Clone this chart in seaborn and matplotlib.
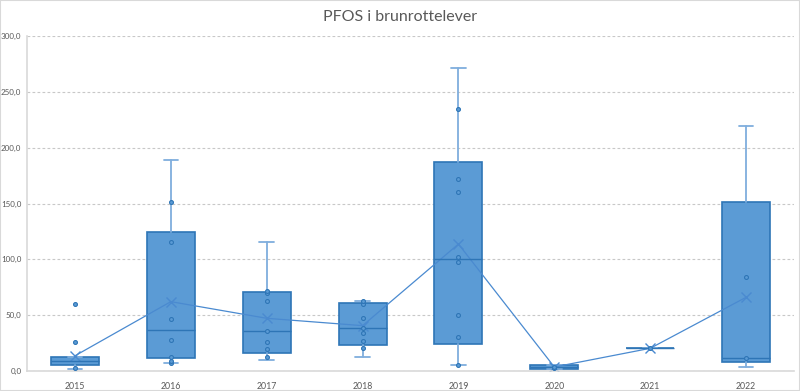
import pandas as pd
import seaborn as sns
import matplotlib.pyplot as plt
from matplotlib.patches import Rectangle

# data
years = ["2015", "2016", "2017", "2018", "2019", "2020", "2021", "2022"]
q1 = [5.4, 11.9, 16.4, 23.6, 24.2, 1.8, 20.3, 7.8]
median = [9.0, 37.0, 35.8, 38.8, 100.0, 3.3, 20.3, 11.9]
q3 = [12.8, 124.2, 70.5, 60.6, 187.2, 5.0, 20.3, 151.1]
whislo = [1.5, 6.9, 9.9, 12.8, 5.4, 1.5, 20.3, 3.9]
whishi = [12.8, 189.0, 115.8, 62.7, 271.6, 5.4, 20.3, 219.1]
means = [13.6, 62.1, 47.2, 40.6, 113.7, 3.6, 20.3, 66.0]

points = {
    "2015": [3.0, 25.7, 60.3],
    "2016": [6.9, 9.2, 12.8, 27.8, 46.3, 115.2, 151.0],
    "2017": [12.5, 19.7, 25.7, 35.8, 62.7, 69.6, 71.9],
    "2018": [20.6, 26.6, 34.3, 38.5, 47.8, 60.0, 62.7],
    "2019": [5.4, 30.2, 50.1, 97.9, 101.8, 160.6, 171.9, 234.3],
    "2020": [2.5, 3.5],
    "2021": [20.3],
    "2022": [11.4, 83.9],
}

sns.set_theme(style="white")
plt.rcParams["font.family"] = ["Lato", "DejaVu Sans"]

box_fill = "#5B9BD5"
box_edge = "#2E75B6"
whisk = "#7FAEDD"
grey_txt = "#595959"

fig = plt.figure(figsize=(8, 3.91), dpi=100)
ax = fig.add_axes([27 / 800, 20 / 391, 767 / 800, 335 / 391])

stats = []
for i in range(len(years)):
    stats.append({"med": median[i], "q1": q1[i], "q3": q3[i],
                  "whislo": whislo[i], "whishi": whishi[i],
                  "mean": means[i], "fliers": []})

ax.bxp(stats, positions=range(len(years)), widths=0.5, capwidths=0.15,
       patch_artist=True, manage_ticks=False, showfliers=False,
       boxprops=dict(facecolor=box_fill, edgecolor=box_edge, linewidth=1.2),
       medianprops=dict(color=box_edge, linewidth=1.0),
       whiskerprops=dict(color=whisk, linewidth=1.3),
       capprops=dict(color=whisk, linewidth=1.3))

df = pd.DataFrame([(y, v) for y in years for v in points[y]], columns=["year", "value"])
sns.stripplot(data=df, x="year", y="value", order=years, jitter=False, ax=ax,
              color=box_fill, edgecolor=box_edge, linewidth=0.8, size=2.8, zorder=4)

sns.pointplot(x=years, y=means, order=years, ax=ax, color="#4A8AD0",
              markers="x", linestyles="-", errorbar=None,
              markersize=7, linewidth=0.9, markeredgewidth=1.0)

ax.set_xlim(-0.5, len(years) - 0.5)
ax.set_ylim(0, 300)
ax.set_yticks(range(0, 301, 50))
ax.set_yticklabels([f"{v:.1f}".replace(".", ",") for v in range(0, 301, 50)])
ax.set_xlabel("")
ax.set_ylabel("")
ax.tick_params(axis="x", length=0, labelsize=6.3, labelcolor=grey_txt, pad=8)
ax.tick_params(axis="y", length=0, labelsize=5.8, labelcolor=grey_txt, pad=4)

ax.grid(axis="y", color="#C8C8C8", linestyle=(0, (2.5, 2)), linewidth=0.8)
ax.set_axisbelow(True)
for s in ["top", "right"]:
    ax.spines[s].set_visible(False)
for s in ["left", "bottom"]:
    ax.spines[s].set_color("#D9D9D9")
    ax.spines[s].set_linewidth(1.2)

fig.text(0.5, 1 - 17 / 391, "PFOS i brunrottelever", ha="center", va="center",
         fontsize=11.5, color=grey_txt)

fig.patches.append(Rectangle((0, 0), 1, 1, transform=fig.transFigure, fill=False,
                             edgecolor="#D9D9D9", linewidth=1.5))

fig.savefig("out.png", dpi=100)
